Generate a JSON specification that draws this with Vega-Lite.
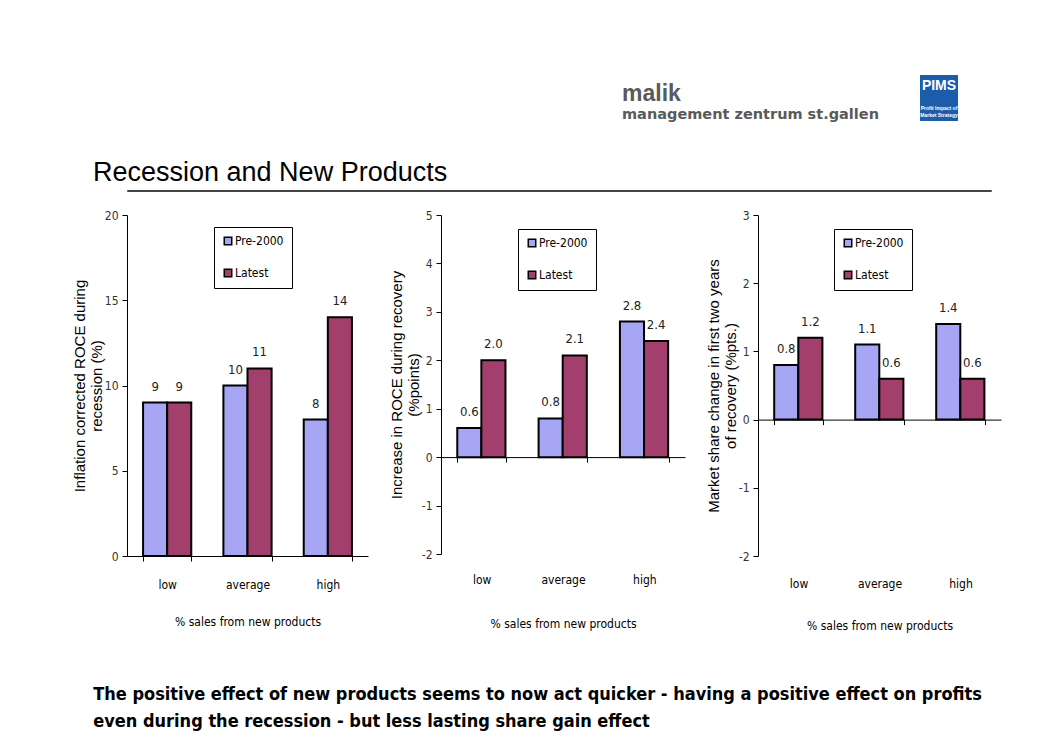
{
  "$schema": "https://vega.github.io/schema/vega-lite/v6.json",
  "background": "white",
  "padding": {"left": 72, "top": 75, "right": 10, "bottom": 10},
  "columns": 1,
  "align": "none",
  "spacing": 12,
  "title": {
    "text": ["The positive effect of new products seems to now act quicker - having a positive effect on profits", "even during the recession - but less lasting share gain effect"],
    "orient": "bottom", "anchor": "start", "frame": "bounds",
    "font": "DejaVu Sans Condensed, Liberation Sans", "fontSize": 18, "fontWeight": "bold", "color": "black",
    "lineHeight": 27, "offset": 54, "dx": 21
  },
  "datasets": {
    "bars": [
      {"panel": "roce", "cat": "low", "period": "Pre-2000", "value": 9},
      {"panel": "roce", "cat": "low", "period": "Latest", "value": 9},
      {"panel": "roce", "cat": "average", "period": "Pre-2000", "value": 10},
      {"panel": "roce", "cat": "average", "period": "Latest", "value": 11},
      {"panel": "roce", "cat": "high", "period": "Pre-2000", "value": 8},
      {"panel": "roce", "cat": "high", "period": "Latest", "value": 14},
      {"panel": "recovery", "cat": "low", "period": "Pre-2000", "value": 0.6},
      {"panel": "recovery", "cat": "low", "period": "Latest", "value": 2.0},
      {"panel": "recovery", "cat": "average", "period": "Pre-2000", "value": 0.8},
      {"panel": "recovery", "cat": "average", "period": "Latest", "value": 2.1},
      {"panel": "recovery", "cat": "high", "period": "Pre-2000", "value": 2.8},
      {"panel": "recovery", "cat": "high", "period": "Latest", "value": 2.4},
      {"panel": "share", "cat": "low", "period": "Pre-2000", "value": 0.8},
      {"panel": "share", "cat": "low", "period": "Latest", "value": 1.2},
      {"panel": "share", "cat": "average", "period": "Pre-2000", "value": 1.1},
      {"panel": "share", "cat": "average", "period": "Latest", "value": 0.6},
      {"panel": "share", "cat": "high", "period": "Pre-2000", "value": 1.4},
      {"panel": "share", "cat": "high", "period": "Latest", "value": 0.6}
    ]
  },
  "config": {
    "view": {"stroke": null},
    "axis": {
      "domainColor": "black", "domainWidth": 1, "tickColor": "black", "tickSize": 5,
      "grid": false, "labelFont": "DejaVu Sans Condensed, Liberation Sans", "labelFontSize": 12, "labelColor": "#333",
      "titleFont": "Liberation Sans", "titleFontWeight": "normal", "titleColor": "black"
    },
    "axisX": {"labelAngle": 0, "tickBand": "extent", "titleFont": "DejaVu Sans Condensed, Liberation Sans", "titleFontSize": 12, "labelColor": "black"},
    "axisY": {"titleFontSize": 15, "titlePadding": 0, "labelPadding": 4, "labelExpr": "'' + datum.value"},
    "legend": {
      "orient": "none", "strokeColor": "black", "fillColor": "white", "padding": 8,
      "rowPadding": 18, "symbolType": "square", "symbolSize": 56, "symbolStrokeColor": "black",
      "symbolStrokeWidth": 1.5, "labelFont": "DejaVu Sans Condensed, Liberation Sans", "labelFontSize": 12,
      "labelColor": "black", "labelOffset": 1, "cornerRadius": 0
    },
    "text": {"font": "DejaVu Sans Condensed, Liberation Sans"}
  },
  "concat": [
    {
      "spacing": 36,
      "hconcat": [
        {
          "width": 757, "height": 71,
          "data": {"values": [{}]},
          "mark": {"type": "text"},
          "encoding": {"text": {"value": ""}},
          "title": {
            "text": "malik", "subtitle": "management zentrum st.gallen",
            "anchor": "start", "dx": 495, "offset": -46, "orient": "top",
            "font": "Liberation Sans", "fontSize": 23, "fontWeight": "bold", "color": "#5a5a5a",
            "subtitleFont": "DejaVu Sans", "subtitleFontSize": 14.5, "subtitleFontWeight": "bold",
            "subtitleColor": "#5a5a5a", "subtitlePadding": 2
          }
        },
        {
          "width": 38, "height": 46,
          "view": {"fill": "#1b5dab", "stroke": null},
          "data": {"values": [{"t": "PIMS", "s": "Profit Impact of\nMarket Strategy"}]},
          "layer": [
            {"mark": {"type": "text", "color": "white", "fontWeight": "bold", "fontSize": 14, "font": "Liberation Sans", "dy": -12}, "encoding": {"text": {"field": "t"}}},
            {"mark": {"type": "text", "color": "white", "fontWeight": "bold", "fontSize": 5, "font": "Liberation Sans", "dy": 10, "lineBreak": "\n", "align": "center"}, "encoding": {"text": {"field": "s"}}}
          ]
        }
      ]
    },
    {
      "width": 864, "height": 1,
      "view": {"stroke": "#444", "strokeWidth": 1},
      "data": {"values": [{}]},
      "mark": {"type": "text"},
      "encoding": {
        "text": {"value": ""},
        "y": {"datum": 0, "type": "quantitative", "scale": {"domain": [0, 1]},
              "axis": {"title": "\u00a0", "titleFontSize": 1, "titleAngle": 0, "minExtent": 35, "titlePadding": 0,
                       "domain": false, "ticks": false, "labels": false}}
      },
      "title": {
        "text": "Recession and New Products", "anchor": "start", "dx": 1, "offset": -2,
        "font": "Liberation Sans", "fontSize": 27, "fontWeight": "normal", "color": "black"
      }
    },
    {
      "spacing": 21,
      "resolve": {"legend": {"color": "independent"}},
      "hconcat": [
        {
          "width": 241, "height": 341,
          "data": {"name": "bars"},
          "transform": [{"filter": "datum.panel == 'roce'"}],
          "encoding": {
            "x": {"field": "cat", "type": "nominal", "sort": ["low", "average", "high"],
                  "scale": {"paddingInner": 0.4, "paddingOuter": 0.2},
                  "axis": {"title": "% sales from new products", "labelPadding": 18, "titlePadding": 26}},
            "xOffset": {"field": "period", "sort": ["Pre-2000", "Latest"]},
            "y": {"field": "value", "type": "quantitative", "scale": {"domain": [0, 20]},
                  "axis": {"values": [0, 5, 10, 15, 20], "title": ["Inflation corrected ROCE during", "recession (%)"]}}
          },
          "layer": [
            {
              "mark": {"type": "bar", "stroke": "black", "strokeWidth": 2},
              "encoding": {
                "color": {"field": "period", "type": "nominal", "sort": ["Pre-2000", "Latest"],
                          "scale": {"domain": ["Pre-2000", "Latest"], "range": ["#a6a6f4", "#a23f6d"]},
                          "legend": {"title": null, "legendX": 87, "legendY": 12}}
              }
            },
            {
              "mark": {"type": "text", "baseline": "bottom", "dy": -9, "fontSize": 13, "color": "#222"},
              "encoding": {"text": {"field": "value", "type": "quantitative", "format": "d"}}
            }
          ]
        },
        {
          "width": 244, "height": 339,
          "data": {"name": "bars"},
          "transform": [{"filter": "datum.panel == 'recovery'"}],
          "encoding": {
            "x": {"field": "cat", "type": "nominal", "sort": ["low", "average", "high"],
                  "scale": {"paddingInner": 0.4, "paddingOuter": 0.2},
                  "axis": {"title": "% sales from new products", "offset": -96.9, "labelPadding": 112, "titlePadding": 33}},
            "xOffset": {"field": "period", "sort": ["Pre-2000", "Latest"]},
            "y": {"field": "value", "type": "quantitative", "scale": {"domain": [-2, 5]},
                  "axis": {"values": [-2, -1, 0, 1, 2, 3, 4, 5], "title": ["Increase in ROCE during recovery", "(%points)"]}}
          },
          "layer": [
            {
              "mark": {"type": "bar", "stroke": "black", "strokeWidth": 2},
              "encoding": {
                "color": {"field": "period", "type": "nominal", "sort": ["Pre-2000", "Latest"],
                          "scale": {"domain": ["Pre-2000", "Latest"], "range": ["#a6a6f4", "#a23f6d"]},
                          "legend": {"title": null, "legendX": 77, "legendY": 14}}
              }
            },
            {
              "mark": {"type": "text", "baseline": "bottom", "dy": -9, "fontSize": 13, "color": "#222"},
              "encoding": {"text": {"field": "value", "type": "quantitative", "format": ".1f"}}
            }
          ]
        },
        {
          "width": 243, "height": 341,
          "data": {"name": "bars"},
          "transform": [{"filter": "datum.panel == 'share'"}],
          "encoding": {
            "x": {"field": "cat", "type": "nominal", "sort": ["low", "average", "high"],
                  "scale": {"paddingInner": 0.4, "paddingOuter": 0.2},
                  "axis": {"title": "% sales from new products", "offset": -136.4, "labelPadding": 154, "titlePadding": 31}},
            "xOffset": {"field": "period", "sort": ["Pre-2000", "Latest"]},
            "y": {"field": "value", "type": "quantitative", "scale": {"domain": [-2, 3]},
                  "axis": {"values": [-2, -1, 0, 1, 2, 3], "title": ["Market share change in first two years", "of recovery (%pts.)"]}}
          },
          "layer": [
            {
              "mark": {"type": "bar", "stroke": "black", "strokeWidth": 2},
              "encoding": {
                "color": {"field": "period", "type": "nominal", "sort": ["Pre-2000", "Latest"],
                          "scale": {"domain": ["Pre-2000", "Latest"], "range": ["#a6a6f4", "#a23f6d"]},
                          "legend": {"title": null, "legendX": 76, "legendY": 14}}
              }
            },
            {
              "mark": {"type": "text", "baseline": "bottom", "dy": -9, "fontSize": 13, "color": "#222"},
              "encoding": {"text": {"field": "value", "type": "quantitative", "format": ".1f"}}
            }
          ]
        }
      ]
    }
  ]
}
